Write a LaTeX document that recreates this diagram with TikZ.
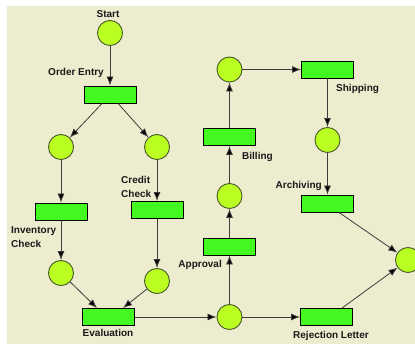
\documentclass[tikz,border=0pt]{standalone}
\usepackage{fontspec}
\setmainfont{Liberation Sans}
\usetikzlibrary{arrows.meta}
\definecolor{bgbeige}{RGB}{238,236,207}
\definecolor{placefill}{RGB}{187,255,34}
\definecolor{placeedge}{RGB}{70,90,40}
\definecolor{transfill}{RGB}{68,248,34}
\definecolor{linegray}{RGB}{60,60,60}
\definecolor{txt}{RGB}{25,25,25}
\tikzset{
  place/.style={circle, draw=placeedge, line width=0.9pt, fill=placefill, minimum size=25pt, inner sep=0pt},
  trans/.style={rectangle, draw=black, line width=0.9pt, fill=transfill, minimum width=52pt, minimum height=17pt, inner sep=0pt},
  lbl/.style={text=txt, font=\bfseries\fontsize{10pt}{14pt}\selectfont, inner sep=0pt, align=left},
  arc/.style={draw=linegray, line width=0.8pt, -{Latex[length=9pt,width=7pt,fill=black]}}
}
\begin{document}
\begin{tikzpicture}[x=1pt,y=-1pt]
\useasboundingbox (0,0) rectangle (415,344);
\clip (0,0) rectangle (415,344);
\fill[bgbeige] (7,6) rectangle (415,344);
% places
\node[place] (start) at (110,33) {};
\node[place] (p1) at (61,147) {};
\node[place] (p2) at (157,147) {};
\node[place] (p3) at (61,273) {};
\node[place] (p4) at (157,281) {};
\node[place] (p5) at (229.5,317) {};
\node[place] (p6) at (229.5,196) {};
\node[place] (p7) at (229.5,69.5) {};
\node[place] (p8) at (327.5,140) {};
\node[place] (p9) at (408,260) {};
% transitions
\node[trans] (oe) at (110,94.5) {};
\node[trans] (ic) at (61,211.5) {};
\node[trans] (cc) at (157,210) {};
\node[trans] (ev) at (108.5,317) {};
\node[trans] (ap) at (229.5,246.5) {};
\node[trans] (bi) at (229.5,137) {};
\node[trans] (sh) at (327.5,69.5) {};
\node[trans] (ar) at (327.5,203.5) {};
\node[trans] (rl) at (326.5,317) {};
% labels
\node[lbl] (lstart) at (108,14) {Start};
\node[lbl, anchor=east] (loe) at (104,73) {Order Entry};
\node[lbl, anchor=west] (lic) at (11,237) {Inventory\\Check};
\node[lbl, anchor=west] (lcc) at (121,186.5) {Credit\\Check};
\node[lbl] (lev) at (108,333) {Evaluation};
\node[lbl, anchor=east] (lap) at (222,265) {Approval};
\node[lbl] (lrl) at (331,336) {Rejection Letter};
\node[lbl, anchor=east] (lar) at (322,186) {Archiving};
\node[lbl, anchor=west] (lbi) at (242,157) {Billing};
\node[lbl, anchor=west] (lsh) at (336,89) {Shipping};
% arcs
\draw[arc] (start) -- (oe);
\draw[arc] ([xshift=-8pt]oe.south) -- (p1);
\draw[arc] ([xshift=8pt]oe.south) -- (p2);
\draw[arc] (p1) -- (ic);
\draw[arc] (p2) -- (cc);
\draw[arc] (ic) -- (p3);
\draw[arc] (cc) -- (p4);
\draw[arc] (p3) -- ([xshift=-11.5pt]ev.north);
\draw[arc] (p4) -- ([xshift=14.5pt]ev.north);
\draw[arc] (ev) -- (p5);
\draw[arc] (p5) -- (ap);
\draw[arc] (p5) -- (rl);
\draw[arc] (ap) -- (p6);
\draw[arc] (p6) -- (bi);
\draw[arc] (bi) -- (p7);
\draw[arc] (p7) -- (sh);
\draw[arc] (sh) -- (p8);
\draw[arc] (p8) -- (ar);
\draw[arc] ([xshift=11.5pt]ar.south) -- (p9);
\draw[arc] ([xshift=15.5pt]rl.north) -- (p9);
\end{tikzpicture}
\end{document}
